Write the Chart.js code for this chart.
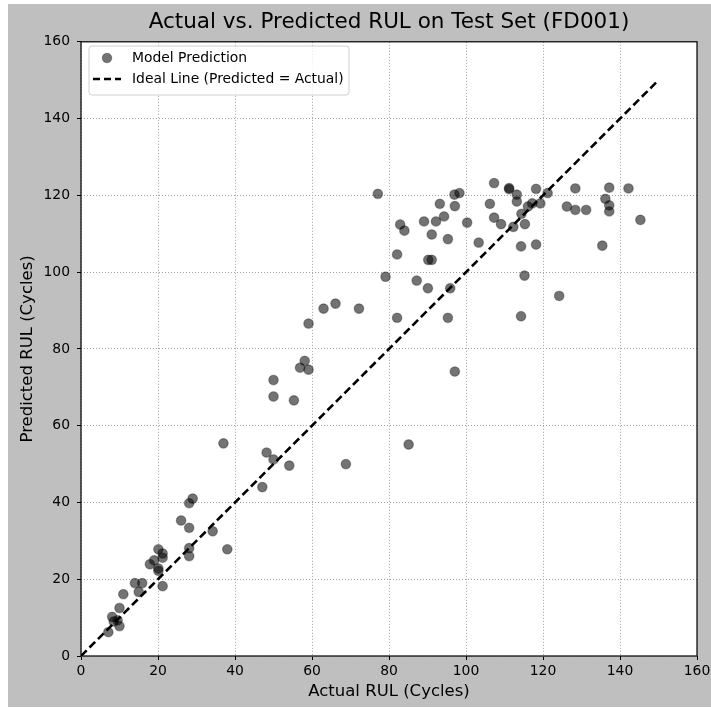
<!DOCTYPE html>
<html>
<head>
<meta charset="utf-8">
<script src="https://cdn.jsdelivr.net/npm/chart.js@4.4.1/dist/chart.umd.min.js"></script>
<style>
html,body{margin:0;padding:0;background:#ffffff;}
#wrap{position:absolute;left:0;top:0;width:711px;height:708px;}
</style>
</head>
<body>
<div id="wrap"><canvas id="c" width="711" height="708"></canvas></div>
<script>
const actualRUL = [7.1,8.1,8.5,9.5,10,10,11,14,15,15.9,17.9,19,20.1,20.1,20.1,21.2,21.2,21.2,26,28.1,29,28.1,28.1,28.1,34.2,37,38,47.1,48.2,50,54.1,50,50,55.3,56.9,58.1,59.1,59.1,63,66.1,68.8,72.2,77.1,79.1,82.1,82.1,82.9,84,85.1,87.2,89.1,90.2,91.1,90.1,91.1,92.2,93.2,94.3,95.3,95.3,95.9,97.1,97.1,97,98.3,100.3,103.3,106.2,107.3,107.3,109.1,111.2,111.2,112.3,113.2,113.2,114.4,114.3,114.3,115.2,115.3,116.1,117.2,118.2,118.2,119.3,121.2,124.2,126.2,128.4,128.4,131.2,135.4,136.2,137.2,137.2,137.2,142.2,145.3];
const predictedRUL = [6.2,10.2,9.0,9.3,7.8,12.5,16.1,19,16.7,19,23.9,24.9,22.8,22.2,27.8,26.7,25.6,18.2,35.3,39.8,41,33.4,28.1,26,32.5,55.4,27.8,44,53,51.2,49.6,71.9,67.6,66.6,75.1,76.9,74.6,86.6,90.5,91.8,50,90.5,120.4,98.8,104.6,88.1,112.4,110.8,55.1,97.8,113.2,103.2,103.2,95.8,109.8,113.2,117.8,114.5,108.6,88.1,95.8,74.1,117.2,120.2,120.6,112.9,107.7,117.8,123.2,114.2,112.5,121.9,121.6,111.8,120.2,118.4,115.2,106.7,88.5,99.1,112.5,117.1,117.9,121.7,107.2,117.9,120.6,93.8,117.1,121.8,116.2,116.2,106.9,119.1,122,117.4,115.8,121.8,113.6];
const idealLine = [0,150];
const axisTicks = [0,20,40,60,80,100,120,140,160];
const titleText = 'Actual vs. Predicted RUL on Test Set (FD001)';
const xLabel = 'Actual RUL (Cycles)';
const yLabel = 'Predicted RUL (Cycles)';
const legendLabels = ['Model Prediction','Ideal Line (Predicted = Actual)'];

const scatterData = actualRUL.map((x,i)=>({x:x,y:predictedRUL[i]}));
const lineData = idealLine.map(v=>({x:v,y:v}));
const FONT = "'DejaVu Sans', sans-serif";

const bgPlugin = {
  id:'bg',
  afterLayout(chart){
    const a = chart.chartArea;
    if (chart.titleBlock){ chart.titleBlock.left = a.left; chart.titleBlock.right = a.right; }
  },
  beforeDraw(chart){
    const ctx = chart.ctx, a = chart.chartArea;
    ctx.save();
    ctx.fillStyle = '#ffffff';
    ctx.fillRect(0,0,chart.width,chart.height);
    ctx.fillStyle = '#bfbfbf';
    ctx.fillRect(8,4,chart.width-8,chart.height-5);
    ctx.fillStyle = '#ffffff';
    ctx.fillRect(a.left,a.top,a.right-a.left,a.bottom-a.top);
    ctx.restore();
  },
  afterDatasetsDraw(chart){
    const ctx = chart.ctx, a = chart.chartArea;
    ctx.save();
    ctx.strokeStyle = '#000';
    ctx.lineWidth = 1.2;
    ctx.strokeRect(a.left,a.top,a.right-a.left,a.bottom-a.top);
    // legend
    const lx = 89, ly = 46, lw = 260, lh = 49;
    ctx.fillStyle = 'rgba(255,255,255,0.8)';
    ctx.strokeStyle = '#d0d0d0';
    ctx.lineWidth = 1;
    const r = 3;
    ctx.beginPath();
    ctx.moveTo(lx+r,ly);ctx.lineTo(lx+lw-r,ly);ctx.quadraticCurveTo(lx+lw,ly,lx+lw,ly+r);
    ctx.lineTo(lx+lw,ly+lh-r);ctx.quadraticCurveTo(lx+lw,ly+lh,lx+lw-r,ly+lh);
    ctx.lineTo(lx+r,ly+lh);ctx.quadraticCurveTo(lx,ly+lh,lx,ly+lh-r);
    ctx.lineTo(lx,ly+r);ctx.quadraticCurveTo(lx,ly,lx+r,ly);ctx.closePath();
    ctx.fill();ctx.stroke();
    ctx.fillStyle = 'rgba(0,0,0,0.55)';
    ctx.strokeStyle = 'rgba(0,0,0,0.3)';
    ctx.beginPath();ctx.arc(107,58,4.8,0,Math.PI*2);ctx.fill();ctx.stroke();
    ctx.strokeStyle = '#000';
    ctx.lineWidth = 2.6;
    ctx.setLineDash([7,4]);
    ctx.beginPath();ctx.moveTo(93,79);ctx.lineTo(121,79);ctx.stroke();
    ctx.setLineDash([]);
    ctx.fillStyle = '#000';
    ctx.font = '13.9px ' + FONT;
    ctx.textBaseline = 'middle';
    ctx.textAlign = 'left';
    ctx.fillText(legendLabels[0],132,58);
    ctx.fillText(legendLabels[1],132,79);
    ctx.restore();
  }
};

const gridOpts = {color:'#a0a0a0',lineWidth:1,drawTicks:true,tickLength:4,tickColor:'#000',tickWidth:1,tickBorderDash:[]};
const borderOpts = {display:false,dash:[1,2]};

new Chart(document.getElementById('c'),{
  type:'scatter',
  data:{datasets:[
    {label:legendLabels[0],data:scatterData,pointRadius:4.8,pointHoverRadius:4.8,
     backgroundColor:'rgba(0,0,0,0.55)',borderColor:'rgba(0,0,0,0.3)',borderWidth:1.2,order:2},
    {type:'line',label:legendLabels[1],data:lineData,borderColor:'#000',borderWidth:2.6,
     borderDash:[8,4],pointRadius:0,fill:false,order:1}
  ]},
  plugins:[bgPlugin],
  options:{
    responsive:false,animation:false,
    layout:{padding:{left:0,top:0,right:14,bottom:0}},
    plugins:{
      legend:{display:false},tooltip:{enabled:false},
      title:{display:true,text:titleText,color:'#000',font:{family:FONT,size:21.5,weight:'normal'},padding:{top:10,bottom:6}}
    },
    scales:{
      x:{type:'linear',min:0,max:160,
        afterBuildTicks(s){s.ticks = axisTicks.map(v=>({value:v}));},
        afterFit(s){s.height = 52; s.paddingLeft = 0; s.paddingRight = 0;},
        grid:gridOpts,
        border:borderOpts,
        ticks:{color:'#000',font:{family:FONT,size:13.9},padding:3,maxRotation:0},
        title:{display:true,text:xLabel,color:'#000',font:{family:FONT,size:16.5},padding:{top:0,bottom:6}}
      },
      y:{type:'linear',min:0,max:160,
        afterBuildTicks(s){s.ticks = axisTicks.map(v=>({value:v}));},
        afterFit(s){s.width = 81; s.paddingTop = 0; s.paddingBottom = 0;},
        grid:gridOpts,
        border:borderOpts,
        ticks:{color:'#000',font:{family:FONT,size:13.9},padding:7},
        title:{display:true,text:yLabel,color:'#000',font:{family:FONT,size:16.5},padding:{top:18,bottom:0}}
      }
    }
  }
});
</script>
</body>
</html>
